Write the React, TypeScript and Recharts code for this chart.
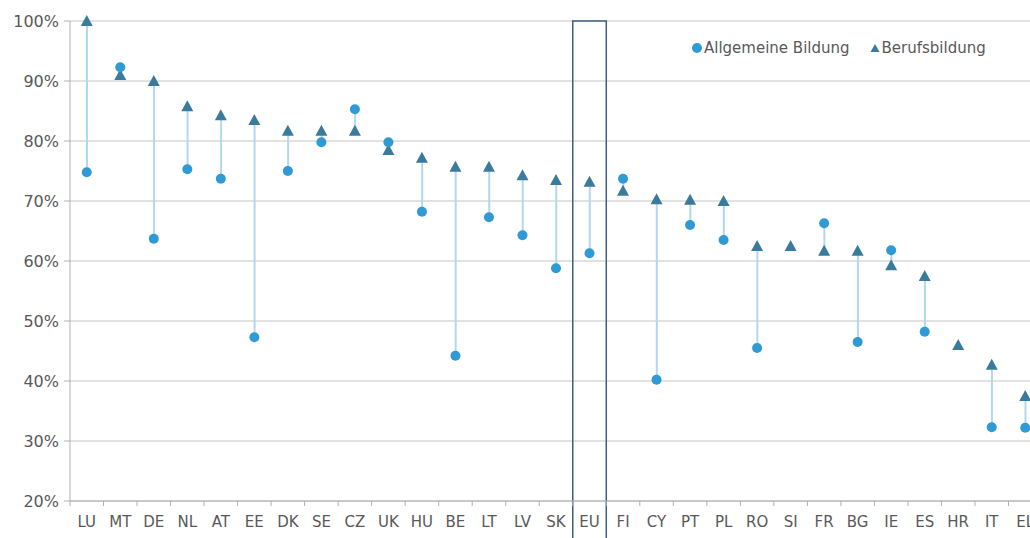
import { ComposedChart, Bar, Scatter, XAxis, YAxis, CartesianGrid, ReferenceArea } from 'recharts';

const countries = [
  'LU', 'MT', 'DE', 'NL', 'AT', 'EE', 'DK', 'SE', 'CZ', 'UK', 'HU', 'BE', 'LT', 'LV', 'SK',
  'EU', 'FI', 'CY', 'PT', 'PL', 'RO', 'SI', 'FR', 'BG', 'IE', 'ES', 'HR', 'IT', 'EL',
];

// Allgemeine Bildung (circles)
const general: (number | null)[] = [
  74.8, 92.3, 63.7, 75.3, 73.7, 47.3, 75.0, 79.8, 85.3, 79.8, 68.2, 44.2, 67.3, 64.3, 58.8,
  61.3, 73.7, 40.2, 66.0, 63.5, 45.5, null, 66.3, 46.5, 61.8, 48.2, null, 32.3, 32.2,
];

// Berufsbildung (triangles)
const vocational: number[] = [
  100, 91.0, 90.0, 85.8, 84.3, 83.5, 81.7, 81.7, 81.7, 78.5, 77.2, 75.7, 75.7, 74.3, 73.5,
  73.2, 71.7, 70.3, 70.2, 70.0, 62.5, 62.5, 61.7, 61.7, 59.3, 57.5, 46.0, 42.7, 37.5,
];

const yTicks = [20, 30, 40, 50, 60, 70, 80, 90, 100];

const CIRCLE = '#2f9ad3';
const TRIANGLE = '#3a7b9c';
const STEM = '#b3d8ee';
const TEXT = '#595959';
const FONT = '"DejaVu Sans", Verdana, sans-serif';

const CHART_W = 1042;
const CHART_H = 538;
const Y_AXIS_W = 70;
const BAND = (CHART_W - Y_AXIS_W) / countries.length;

const data = countries.map((c, i) => {
  const g = general[i];
  const v = vocational[i];
  return {
    country: c,
    general: g,
    vocational: v,
    range: g == null ? null : [Math.min(g, v), Math.max(g, v)],
  };
});

const Dot = (props: any) => {
  const { cx, cy } = props;
  if (cx == null || cy == null || Number.isNaN(cy)) return null;
  return <circle cx={cx} cy={cy} r={5} fill={CIRCLE} />;
};

const Tri = (props: any) => {
  const { cx, cy } = props;
  if (cx == null || cy == null || Number.isNaN(cy)) return null;
  return <polygon points={`${cx - 6},${cy + 5} ${cx + 6},${cy + 5} ${cx},${cy - 6}`} fill={TRIANGLE} />;
};

const CountryTick = (props: any) => {
  const { x, payload } = props;
  const left = x - BAND / 2;
  return (
    <g>
      <line x1={left} y1={501} x2={left} y2={506} stroke="#b0b0b0" />
      <text x={x} y={527} textAnchor="middle" fill={TEXT} fontSize={15} fontFamily={FONT}>
        {payload.value}
      </text>
    </g>
  );
};

export default function App() {
  return (
    <div style={{ position: 'fixed', left: 0, top: 0, width: 1030, height: 538, overflow: 'hidden', background: '#fff' }}>
      <ComposedChart
        width={CHART_W}
        height={CHART_H}
        data={data}
        margin={{ top: 21, right: 0, bottom: 0, left: 0 }}
        barCategoryGap={0}
      >
        <CartesianGrid vertical={false} stroke="#c4c4c4" />
        <XAxis
          dataKey="country"
          height={37}
          interval={0}
          tickLine={false}
          axisLine={{ stroke: '#b0b0b0' }}
          tick={<CountryTick />}
        />
        <YAxis
          type="number"
          domain={[20, 100]}
          ticks={yTicks}
          width={Y_AXIS_W}
          tickFormatter={(v: number) => `${v}%`}
          tickSize={6}
          tickMargin={5}
          axisLine={{ stroke: '#b0b0b0' }}
          tickLine={{ stroke: '#b0b0b0' }}
          tick={{ fill: TEXT, fontSize: 16, fontFamily: FONT }}
        />
        <ReferenceArea
          x1="EU"
          x2="EU"
          y1={10}
          y2={100}
          ifOverflow="visible"
          fill="none"
          stroke="#3f5f7f"
          strokeWidth={1.5}
        />
        <Bar dataKey="range" barSize={2} fill={STEM} isAnimationActive={false} />
        <Scatter dataKey="vocational" shape={<Tri />} isAnimationActive={false} />
        <Scatter dataKey="general" shape={<Dot />} isAnimationActive={false} />
      </ComposedChart>
      <div
        style={{
          position: 'absolute',
          left: 690,
          top: 39,
          fontFamily: FONT,
          fontSize: 15,
          color: TEXT,
          display: 'flex',
          alignItems: 'center',
          whiteSpace: 'nowrap',
        }}
      >
        <svg width={14} height={14}>
          <circle cx={7} cy={7} r={5} fill={CIRCLE} />
        </svg>
        <span>Allgemeine Bildung</span>
        <svg width={14} height={14} style={{ marginLeft: 18 }}>
          <polygon points="2.5,11 11.5,11 7,3" fill={TRIANGLE} />
        </svg>
        <span>Berufsbildung</span>
      </div>
    </div>
  );
}
